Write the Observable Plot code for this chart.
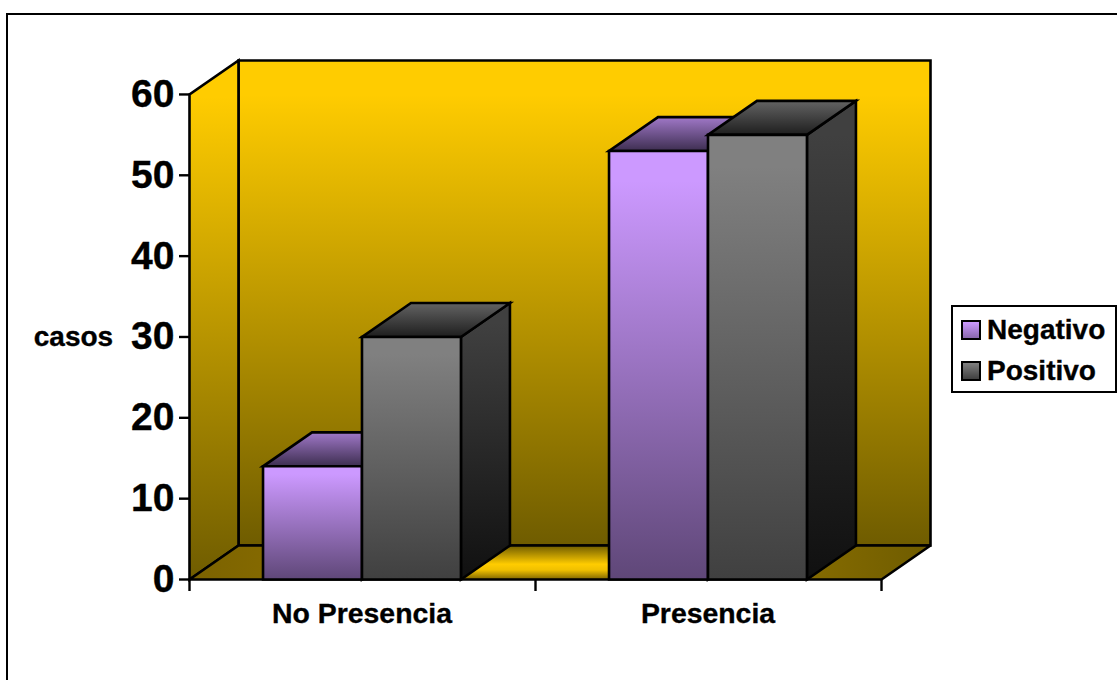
<!DOCTYPE html>
<html lang="es">
<head>
<meta charset="utf-8">
<title>Casos por presencia</title>
<script src="https://cdn.jsdelivr.net/npm/d3@7"></script>
<script src="https://cdn.jsdelivr.net/npm/@observablehq/plot@0.6"></script>
<style>
  html, body { margin: 0; padding: 0; background: #fff; overflow: hidden; }
  body { width: 1117px; height: 680px; position: relative; font-family: "Liberation Sans", Arial, sans-serif; }
  #frame { position: absolute; left: 6px; top: 13px; width: 1120px; height: 680px; border-left: 2px solid #000; border-top: 2px solid #000; }
  #chart { position: absolute; left: 0; top: 0; }
  #chart svg text { stroke: #000; stroke-width: 0.35px; }
  #legend { position: absolute; left: 951px; top: 305px; width: 162px; height: 84px; border: 2px solid #000; background: #fff; }
  .entry { position: absolute; left: 8px; font-size: 28px; font-weight: 700; line-height: 32px; color: #000; display: flex; align-items: center; white-space: nowrap; -webkit-text-stroke: 0.35px #000; }
  .swatch { width: 16px; height: 16px; border: 2px solid #000; margin-right: 6px; }
</style>
</head>
<body>
<div id="frame"></div>
<div id="chart"></div>
<div id="legend"></div>
<script>
const categories = ["No Presencia", "Presencia"];
const seriesNames = ["Negativo", "Positivo"];
const negativo = [14, 53];
const positivo = [30, 55];
const yTicks = [0, 10, 20, 30, 40, 50, 60];
const yLabel = "casos";

// Oblique projection of the 3D box: how far the back plane is shifted, in data units.
const depthX = 0.1416;
const depthY = 4.2;
const yMax = 60;
const barWidth = 0.286;
const barShift = -0.0015;

// Vertical shades hold their first colour briefly before fading to the second.
const hold = (a, b) => [[0, a], [0.07, a], [1, b]];
const gradientStops = {
  wall: ["y", hold("#ffcc00", "#6f5c00")],
  floorLeft: ["x", [[0, "#7b6200"], [1, "#957600"]]],
  floorMid: ["y", [[0, "#6f5c00"], [0.55, "#ffcc00"], [0.72, "#f0c000"], [1, "#7d6400"]]],
  floorRight: ["x", [[0, "#977700"], [1, "#6f5c00"]]],
  negFront: ["y", hold("#cc99ff", "#5f4778")],
  negTop: ["y", [[0, "#a078c8"], [1, "#3d2e50"]]],
  negSide: ["y", hold("#664d80", "#33264d")],
  posFront: ["y", hold("#808080", "#404040")],
  posSide: ["y", hold("#404040", "#101010")],
  posTop: ["y", [[0, "#636363"], [1, "#1e1e1e"]]]
};

// SVG gradient definitions, inserted as a custom mark so the polygons can reference them.
function gradientDefs() {
  const defs = d3.create("svg:defs");
  for (const [id, [axis, stops]] of Object.entries(gradientStops)) {
    const g = defs.append("linearGradient").attr("id", id)
      .attr("x1", 0).attr("y1", 0)
      .attr("x2", axis === "x" ? 1 : 0).attr("y2", axis === "y" ? 1 : 0);
    for (const [offset, color] of stops) {
      g.append("stop").attr("offset", offset).attr("stop-color", color);
    }
  }
  return defs.node();
}

const outlineWidth = 2.6;
const polygon = (points, fill, stroke = "#000") =>
  Plot.line([...points, points[0], points[1]], {
    x: "0", y: "1", fill: `url(#${fill})`, stroke,
    strokeWidth: stroke === "none" ? 0 : outlineWidth,
    strokeLinejoin: "miter", strokeMiterlimit: 4, curve: "linear"
  });

const floorPart = (x0, x1, fill) => polygon(
  [[x0, 0], [x0 + depthX, depthY], [x1 + depthX, depthY], [x1, 0]], fill, "none");

// A bar is three faces: side and top behind the front.
function bar(x0, value, prefix) {
  const x1 = x0 + barWidth;
  return [
    polygon([[x1, 0], [x1 + depthX, depthY], [x1 + depthX, value + depthY], [x1, value]], prefix + "Side"),
    polygon([[x0, value], [x0 + depthX, value + depthY], [x1 + depthX, value + depthY], [x1, value]], prefix + "Top"),
    polygon([[x0, 0], [x0, value], [x1, value], [x1, 0]], prefix + "Front")
  ];
}

const bars = categories.flatMap((_, i) => [
  ...bar(i + 0.5 - barWidth + barShift, negativo[i], "neg"),
  ...bar(i + 0.5 + barShift, positivo[i], "pos")
]);

const xEnd = categories.length;

const chart = Plot.plot({
  width: 1117,
  height: 680,
  marginLeft: 189,
  marginRight: 187,
  marginTop: 60,
  marginBottom: 101,
  style: { fontFamily: '"Liberation Sans", Arial, sans-serif', background: "transparent", color: "#000", overflow: "visible" },
  x: { type: "linear", domain: [0, xEnd + depthX], axis: null },
  y: { type: "linear", domain: [0, yMax + depthY], axis: null },
  marks: [
    gradientDefs,
    // back wall
    polygon([[depthX, depthY], [depthX, yMax + depthY], [xEnd + depthX, yMax + depthY], [xEnd + depthX, depthY]], "wall"),
    // side wall
    polygon([[0, 0], [0, yMax], [depthX, yMax + depthY], [depthX, depthY]], "wall"),
    // floor, shaded in three stretches, then its outline
    floorPart(0, 0.5, "floorLeft"),
    floorPart(0.5, 1.5, "floorMid"),
    floorPart(1.5, xEnd, "floorRight"),
    Plot.line([[0, 0], [depthX, depthY], [xEnd + depthX, depthY], [xEnd, 0], [0, 0], [depthX, depthY]], {
      x: "0", y: "1", stroke: "#000", strokeWidth: outlineWidth, strokeLinejoin: "miter"
    }),
    ...bars,
    Plot.axisY({ ticks: yTicks, tickSize: 10, tickPadding: 5, fontSize: 39, fontWeight: 700, label: null, stroke: "#000", strokeWidth: 2.4 }),
    Plot.axisX({ ticks: [0, 1, 2], tickSize: 12, tickFormat: () => "", label: null, stroke: "#000", strokeWidth: 2.4 }),
    Plot.text(categories, { x: (_, i) => i + 0.5, y: 0, dx: -0.5, dy: 34, text: d => d, fontSize: 28.4, fontWeight: 700, fill: "#000" }),
    Plot.text([yLabel], { x: 0, y: 30, dx: -116, text: d => d, fontSize: 28, fontWeight: 700, fill: "#000" })
  ]
});
document.getElementById("chart").append(chart);

// Legend box at the right of the plot
const legendSwatches = [["#cc99ff", "#8a68ad"], ["#808080", "#404040"]];
const legend = document.getElementById("legend");
seriesNames.forEach((name, i) => {
  const entry = document.createElement("div");
  entry.className = "entry";
  entry.style.top = (i === 0 ? 7 : 48) + "px";
  const swatch = document.createElement("span");
  swatch.className = "swatch";
  swatch.style.background = `linear-gradient(${legendSwatches[i][0]}, ${legendSwatches[i][1]})`;
  entry.append(swatch, name);
  legend.append(entry);
});
</script>
</body>
</html>
